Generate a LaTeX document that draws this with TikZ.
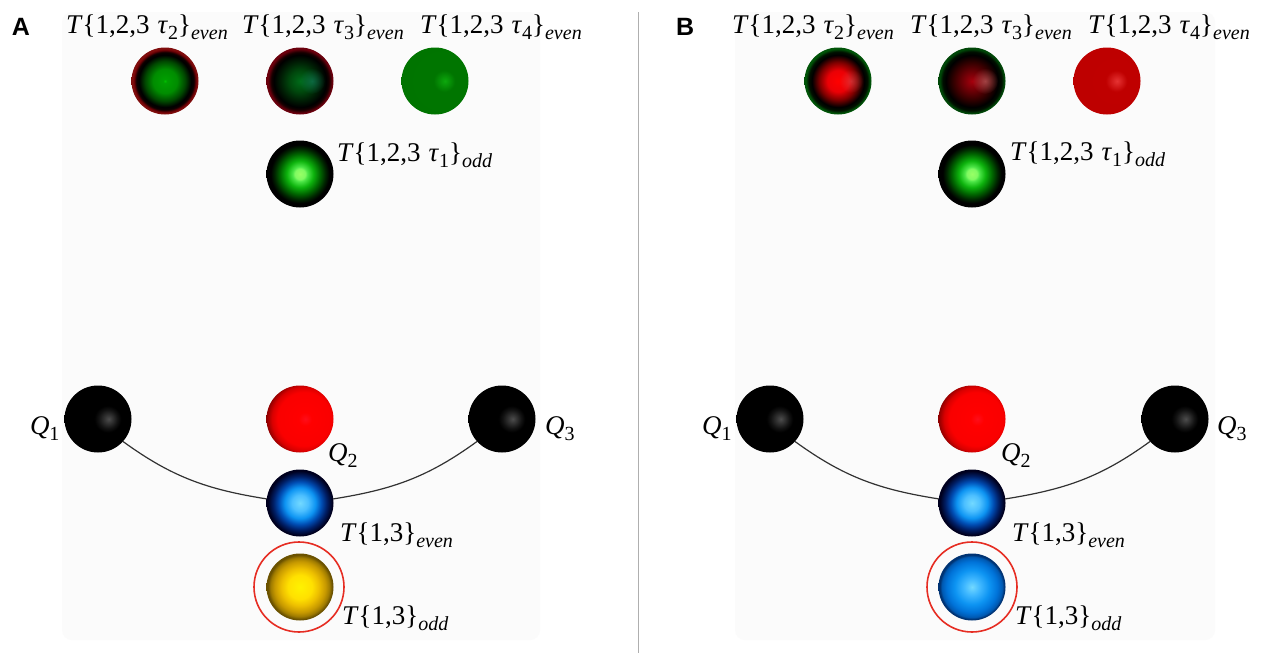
\documentclass[tikz,border=0pt]{standalone}
\usepackage{fontspec}
\setmainfont{Liberation Serif}
\newfontfamily\panelfont{Liberation Sans}
\usetikzlibrary{fadings}
\definecolor{panelbg}{RGB}{251,251,251}
\definecolor{divider}{RGB}{175,175,175}
\definecolor{ringred}{RGB}{230,45,35}
\definecolor{linkgray}{RGB}{50,50,50}
\definecolor{glowteal}{RGB}{20,130,100}
\definecolor{glowrose}{RGB}{210,110,110}
\tikzfading[name=softglow,inner color=transparent!0,outer color=transparent!100]

% radial shadings: the sphere's rim falls at 24bp of the shading's radius
\pgfdeclareradialshading{evgreen}{\pgfpoint{0bp}{0bp}}{rgb(0bp)=(0,.75,0);rgb(1.5bp)=(0,.62,0);rgb(9bp)=(0,.55,0);rgb(15bp)=(0,.28,0);rgb(19.5bp)=(0,0,0);rgb(21.5bp)=(.05,0,0);rgb(23bp)=(.42,0,.02);rgb(24bp)=(.5,.05,.05);rgb(100bp)=(.5,.05,.05)}
\pgfdeclareradialshading{dimgreen}{\pgfpoint{0bp}{0bp}}{rgb(0bp)=(0,.42,.1);rgb(8bp)=(0,.28,.05);rgb(14bp)=(0,.13,.02);rgb(19.5bp)=(0,0,0);rgb(21.5bp)=(.08,0,0);rgb(24bp)=(.42,0,.05);rgb(100bp)=(.42,0,.05)}
\pgfdeclareradialshading{flatgreen}{\pgfpoint{7.5bp}{0bp}}{rgb(0bp)=(.05,.66,.05);rgb(8bp)=(0,.46,0);rgb(100bp)=(0,.44,0)}
\pgfdeclareradialshading{oddgreen}{\pgfpoint{0bp}{0bp}}{rgb(0bp)=(.6,1,.4);rgb(4bp)=(.5,.98,.38);rgb(5.5bp)=(.3,.9,.28);rgb(10bp)=(.05,.7,.05);rgb(15bp)=(0,.4,0);rgb(19bp)=(0,.15,0);rgb(22bp)=(0,0,0);rgb(100bp)=(0,0,0)}
\pgfdeclareradialshading{evred}{\pgfpoint{0bp}{0bp}}{rgb(0bp)=(1,0,0);rgb(8bp)=(.92,0,.02);rgb(14bp)=(.5,0,0);rgb(19.5bp)=(0,0,0);rgb(22bp)=(0,.07,0);rgb(24bp)=(0,.33,.03);rgb(100bp)=(0,.33,.03)}
\pgfdeclareradialshading{dimred}{\pgfpoint{0bp}{0bp}}{rgb(0bp)=(.65,0,.05);rgb(8bp)=(.4,0,.02);rgb(14bp)=(.2,0,0);rgb(19.5bp)=(0,0,0);rgb(22bp)=(0,.06,0);rgb(24bp)=(0,.28,.03);rgb(100bp)=(0,.28,.03)}
\pgfdeclareradialshading{flatred}{\pgfpoint{7.5bp}{0bp}}{rgb(0bp)=(.9,.2,.2);rgb(8bp)=(.75,0,0);rgb(100bp)=(.72,0,0)}
\pgfdeclareradialshading{blackball}{\pgfpoint{8bp}{0bp}}{rgb(0bp)=(.3,.3,.3);rgb(7bp)=(.07,.07,.07);rgb(10bp)=(0,0,0);rgb(100bp)=(0,0,0)}
\pgfdeclareradialshading{redball}{\pgfpoint{4bp}{0bp}}{rgb(0bp)=(1,.05,.1);rgb(5bp)=(1,0,0);rgb(20bp)=(.98,0,0);rgb(24bp)=(.85,0,0);rgb(28bp)=(.55,0,0);rgb(100bp)=(.55,0,0)}
\pgfdeclareradialshading{evblue}{\pgfpoint{0bp}{0bp}}{rgb(0bp)=(.45,.85,1);rgb(6bp)=(.3,.75,1);rgb(11.5bp)=(.05,.58,.95);rgb(16bp)=(0,.3,.7);rgb(20bp)=(0,.12,.4);rgb(24bp)=(0,0,.12);rgb(100bp)=(0,0,.12)}
\pgfdeclareradialshading{oddblue}{\pgfpoint{0bp}{0bp}}{rgb(0bp)=(.45,.85,1);rgb(6bp)=(.25,.72,1);rgb(13bp)=(.05,.58,.95);rgb(19bp)=(0,.45,.85);rgb(22.5bp)=(0,.35,.7);rgb(24bp)=(0,.2,.45);rgb(100bp)=(0,.2,.45)}
\pgfdeclareradialshading{oddyellow}{\pgfpoint{0bp}{0bp}}{rgb(0bp)=(1,.95,0);rgb(9bp)=(1,.88,0);rgb(14bp)=(.93,.75,0);rgb(19bp)=(.78,.6,0);rgb(22bp)=(.62,.48,0);rgb(24bp)=(.42,.32,0);rgb(100bp)=(.42,.32,0)}

\tikzset{
  sphere/.style={circle,minimum size=67pt,inner sep=0pt,outer sep=0pt,draw=none,shading=#1},
  ringmark/.style={circle,minimum size=90pt,inner sep=0pt,draw=ringred,line width=1.6pt},
  link/.style={draw=linkgray,line width=1.2pt},
  glow/.style={fill=#1,opacity=.6,path fading=softglow},
  lab/.style={anchor=base west,inner sep=0pt,outer sep=0pt,font=\fontsize{27}{30}\selectfont},
  panel/.style={anchor=base west,inner sep=0pt,outer sep=0pt,font=\panelfont\bfseries\fontsize{25}{28}\selectfont},
  backdrop/.style={fill=panelbg,draw=none,rounded corners=10pt}
}
% label helpers: upright text with italic variables and lowered indices
\newcommand{\Tsub}[1]{\raisebox{-6pt}{\fontsize{20}{22}\selectfont\itshape #1}}
\newcommand{\Idx}[1]{\raisebox{-6pt}{\fontsize{20}{22}\selectfont #1}}
\newcommand{\Triple}[2]{\textit{T}\{1,2,3\kern.3em\textit{τ}\Idx{#1}\}\Tsub{#2}}
\newcommand{\Pair}[1]{\textit{T}\{1,3\}\Tsub{#1}}
\newcommand{\Qn}[1]{\textit{Q}\Idx{#1}}

\begin{document}
\begin{tikzpicture}[x=1pt,y=-1pt]
\useasboundingbox (0,0) rectangle (1263,653);
\fill[white] (0,0) rectangle (1263,653);

% faint backdrops behind each panel
\fill[backdrop] (62,12) rectangle (540,640);
\fill[backdrop] (735,12) rectangle (1215,640);

% panel divider
\coordinate (divtop) at (638,12);
\coordinate (divbot) at (638,653);
\draw[divider,line width=1pt] (divtop) -- (divbot);

% panel A spheres
\node[sphere=evgreen]   (a2) at (165,81) {};
\node[sphere=dimgreen]  (a3) at (300,81) {};
\fill[glow=glowteal] (312,81) circle (13pt);
\node[sphere=flatgreen] (a4) at (435,81) {};
\node[sphere=oddgreen]  (a1) at (300,174) {};
\node[sphere=blackball] (aq1) at (98,419) {};
\node[sphere=redball]   (aq2) at (300,419) {};
\node[sphere=blackball] (aq3) at (502,419) {};
\node[sphere=evblue]    (ae) at (300,503) {};
\node[sphere=oddyellow] (ao) at (300,587) {};
\node[ringmark] (ar) at (299,587) {};
\draw[link] (aq1.-42) to[out=-36,in=171] (ae.173);
\draw[link] (aq3.222) to[out=216,in=9] (ae.7);

% panel A labels
\node[panel] (pa) at (12,35) {A};
\node[lab] (la2) at (66,33) {\Triple{2}{even}};
\node[lab] (la3) at (242,33) {\Triple{3}{even}};
\node[lab] (la4) at (420,33) {\Triple{4}{even}};
\node[lab] (la1) at (337,161) {\Triple{1}{odd}};
\node[lab] (laq1) at (30,434) {\Qn{1}};
\node[lab] (laq2) at (328,461) {\Qn{2}};
\node[lab] (laq3) at (545,434) {\Qn{3}};
\node[lab] (lae) at (340,541) {\Pair{even}};
\node[lab] (lao) at (342,624) {\Pair{odd}};

% panel B spheres
\node[sphere=evred]     (b2) at (838,81) {};
\fill[glow=glowrose,opacity=.4] (851,81) circle (12pt);
\node[sphere=dimred]    (b3) at (972,81) {};
\fill[glow=glowrose] (985,81) circle (13pt);
\node[sphere=flatred]   (b4) at (1107,81) {};
\node[sphere=oddgreen]  (b1) at (972,174) {};
\node[sphere=blackball] (bq1) at (770,419) {};
\node[sphere=redball]   (bq2) at (972,419) {};
\node[sphere=blackball] (bq3) at (1175,419) {};
\node[sphere=evblue]    (be) at (972,503) {};
\node[sphere=oddblue]   (bo) at (972,587) {};
\node[ringmark] (br) at (972,587) {};
\draw[link] (bq1.-42) to[out=-36,in=171] (be.173);
\draw[link] (bq3.222) to[out=216,in=9] (be.7);

% panel B labels
\node[panel] (pb) at (676,35) {B};
\node[lab] (lb2) at (732,33) {\Triple{2}{even}};
\node[lab] (lb3) at (910,33) {\Triple{3}{even}};
\node[lab] (lb4) at (1088,33) {\Triple{4}{even}};
\node[lab] (lb1) at (1010,160) {\Triple{1}{odd}};
\node[lab] (lbq1) at (702,434) {\Qn{1}};
\node[lab] (lbq2) at (1001,461) {\Qn{2}};
\node[lab] (lbq3) at (1217,434) {\Qn{3}};
\node[lab] (lbe) at (1012,541) {\Pair{even}};
\node[lab] (lbo) at (1015,624) {\Pair{odd}};
\end{tikzpicture}
\end{document}
